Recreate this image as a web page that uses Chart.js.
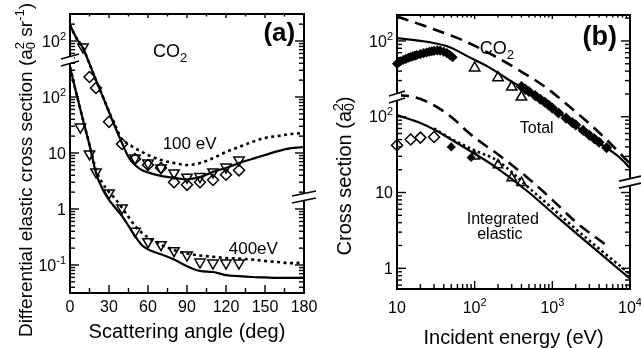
<!DOCTYPE html>
<html>
<head>
<meta charset="utf-8">
<script src="https://cdn.jsdelivr.net/npm/chart.js@4.4.1/dist/chart.umd.min.js"></script>
<style>
  body { margin: 0; background: #fff; width: 641px; height: 348px; overflow: hidden; position: relative; }
  canvas { position: absolute; top: 0; }
  #chartA { left: 0; }
  #chartB { left: 323px; }
</style>
</head>
<body>
<canvas id="chartA" width="325" height="348"></canvas>
<canvas id="chartB" width="320" height="348"></canvas>
<script>
// ---- panel (a): DCS vs scattering angle (100 eV curve shown x10 on the upper scale)
const angleCurve = [0, 5, 10, 15, 20, 25, 30, 35, 40, 45, 50, 55, 60, 70, 80, 90, 100, 110, 120, 130, 140, 150, 160, 170, 180];
const dcs100Solid = [1930, 1120, 750, 390, 200, 105, 54, 28, 15.1, 8.5, 6.1, 5.0, 4.5, 3.9, 3.6, 3.4, 3.7, 4.6, 5.4, 6.6, 7.8, 9.2, 10.8, 12.2, 12.8];
const dcs100Dotted = [1930, 1120, 750, 390, 200, 105, 55, 30, 17.5, 14.5, 12.2, 10.6, 9.2, 7.5, 6.6, 6.1, 6.6, 8.1, 10.4, 12.8, 15.7, 18.6, 20.1, 21.8, 22.7];
const dcs400Solid = [343, 113, 39, 13.9, 4.4, 2.27, 1.45, 1.04, 0.75, 0.50, 0.33, 0.23, 0.19, 0.155, 0.125, 0.095, 0.078, 0.075, 0.066, 0.063, 0.061, 0.060, 0.059, 0.059, 0.059];
const dcs400Dotted = [343, 113, 39, 14, 5.0, 2.9, 2.0, 1.5, 1.05, 0.72, 0.5, 0.38, 0.31, 0.23, 0.185, 0.16, 0.148, 0.14, 0.133, 0.13, 0.125, 0.118, 0.113, 0.108, 0.11];

const diamond100Angle = [15, 20, 30, 40, 50, 60, 70, 80, 90, 100, 110, 120, 130];
const diamond100 = [228, 145, 36, 14.5, 7.8, 6.1, 5.4, 3.0, 2.7, 3.0, 3.3, 4.1, 4.9];
const triangle100Angle = [10, 50, 60, 70, 80, 90, 100, 110, 120, 130];
const triangle100 = [780, 8.1, 6.6, 5.4, 4.4, 3.7, 3.8, 4.6, 5.6, 7.5];
const triangle400Angle = [8, 15, 20, 30, 40, 50, 60, 70, 80, 90, 100, 110, 120, 130];
const triangle400 = [29, 9.6, 4.6, 1.93, 1.04, 0.40, 0.26, 0.23, 0.18, 0.15, 0.113, 0.108, 0.108, 0.108];

const angleTicks = [0, 30, 60, 90, 120, 150, 180];
const dcsTickValues = [0.1, 1, 10, 100, 1000];
const dcsTickBase = ['10', '1', '10', '10', '10'];
const dcsTickExp = ['-1', '', '', '2', '2'];

// ---- panel (b): cross sections vs incident energy (total shown x10 on the upper scale)
const energyTotSolid = [10, 26, 47, 85, 150, 300, 500, 1000, 1440, 3000, 7350, 10000];
const totSolid = [1090, 966, 832, 612, 455, 290, 215, 128, 100, 55, 29, 21];
const energyTotDashed = [10, 21, 69, 153, 369, 815, 1746, 4000, 10000];
const totDashed = [2100, 1620, 1030, 692, 413, 246, 130, 62, 24];
const energyTotLow = [10, 10.5, 11, 12, 13, 14, 15, 16, 17, 18, 20, 22, 24, 26, 28, 30, 33, 36, 40, 44, 48, 52];
const totLow = [500, 520, 540, 560, 580, 600, 615, 630, 640, 650, 670, 690, 705, 720, 730, 740, 750, 745, 720, 690, 650, 610];
const energyTotTri = [100, 200, 300, 400];
const totTri = [440, 327, 246, 182];
const energyTotHigh = [400, 450, 500, 600, 700, 800, 900, 1000, 1200, 1500, 1800, 2000, 2500, 3000, 3500, 4000, 5000];
const totHigh = [250, 230, 215, 190, 170, 155, 142, 130, 112, 96, 84, 78, 66, 57, 51, 46, 39];

const energyIntSolid = [10, 18.6, 30.8, 51, 92, 182, 500, 1000, 2000, 5000, 10000];
const intSolid = [105, 85, 66.8, 49.3, 34.2, 22, 10.0, 5.4, 2.94, 1.33, 0.73];
const energyIntDashed = [10, 15.6, 25, 37.8, 55.6, 81.8, 124, 182, 500, 1000, 2000, 5000];
const intDashed = [193, 184, 156, 122, 90.5, 62.8, 45, 34.2, 15.1, 8.0, 4.1, 2.0];
const energyIntDotted = [30, 50, 100, 200, 500, 1000, 2000, 5000, 10000];
const intDotted = [70, 51, 36, 26, 11.5, 6.2, 3.3, 1.5, 0.84];
const energyIntDiaOpen = [10, 15, 20, 30];
const intDiaOpen = [42, 50, 53, 54];
const energyIntDiaFilled = [50, 90];
const intDiaFilled = [40, 29];
const energyIntTri = [100, 200, 300, 400];
const intTri = [30, 23, 15.5, 13.5];

const energyTickValues = [10, 100, 1000, 10000];
const energyTickBase = ['10', '10', '10', '10'];
const energyTickExp = ['', '2', '3', '4'];
const csTickValues = [1, 10, 100, 1000];
const csTickBase = ['1', '10', '10', '10'];
const csTickExp = ['', '', '2', '2'];

const FONT = '"Liberation Sans", Arial, sans-serif';

function pts(xs, ys) { return xs.map((x, i) => ({x: x, y: ys[i]})); }

function curve(xs, ys, dash, width) {
  return {data: pts(xs, ys), showLine: true, borderColor: '#000', borderWidth: width || 2.2,
    borderDash: dash || [], pointRadius: 0, cubicInterpolationMode: 'monotone', borderCapStyle: 'butt'};
}
function marks(xs, ys, style, radius, rot, fill) {
  return {data: pts(xs, ys), showLine: false, pointStyle: style, pointRadius: radius, pointRotation: rot || 0,
    pointBorderColor: '#000', pointBackgroundColor: fill || 'rgba(0,0,0,0)', pointBorderWidth: 1.5, clip: 10};
}

function logTicks(min, max) {
  const out = [];
  for (let d = Math.floor(Math.log10(min)); d <= Math.ceil(Math.log10(max)); d++) {
    for (let m = 1; m <= 9; m++) {
      const v = m * Math.pow(10, d);
      if (v >= min && v <= max) out.push({v: v, major: m === 1});
    }
  }
  return out;
}

// text made of runs (superscripts, subscripts, stacked a0^2)
function drawRich(ctx, segs, x, y, angle, align) {
  ctx.save();
  ctx.translate(x, y);
  ctx.rotate(angle);
  ctx.fillStyle = '#000';
  ctx.textBaseline = 'alphabetic';
  ctx.textAlign = 'left';
  const font = s => (s.b ? 'bold ' : '') + s.f + 'px ' + FONT;
  let total = 0;
  const widths = segs.map(s => {
    const parts = s.stack || [s];
    const w = Math.max(...parts.map(p => { ctx.font = font(p); return ctx.measureText(p.t).width; }));
    total += w;
    return w;
  });
  const base = segs[0].f * 0.36;
  let cx = align === 'right' ? -total : -total / 2;
  segs.forEach((s, i) => {
    (s.stack || [s]).forEach(p => { ctx.font = font(p); ctx.fillText(p.t, cx, base + (p.dy || 0)); });
    cx += widths[i];
  });
  ctx.restore();
}

function powerLabel(base, exp) {
  const segs = [{t: base, f: 16}];
  if (exp) segs.push({t: exp, f: 11, dy: -7});
  return segs;
}

function drawBreak(ctx, x, y, w) {
  ctx.fillStyle = '#fff';
  ctx.beginPath();
  ctx.moveTo(x - 4, y - 3 + 1.2); ctx.lineTo(x + 4, y - 3 - 1.2);
  ctx.lineTo(x + 4, y + 3 - 1.2); ctx.lineTo(x - 4, y + 3 + 1.2);
  ctx.closePath(); ctx.fill();
  ctx.lineWidth = 1.6;
  [-3.5, 3.5].forEach(d => {
    ctx.beginPath();
    ctx.moveTo(x - w, y + d + 2.5);
    ctx.lineTo(x + w, y + d - 2.5);
    ctx.stroke();
  });
}

function line(ctx, x1, y1, x2, y2) { ctx.beginPath(); ctx.moveTo(x1, y1); ctx.lineTo(x2, y2); ctx.stroke(); }

function framePlugin(cfg) {
  return {
    id: 'frame' + cfg.name,
    afterDatasetsDraw(chart) {
      const ctx = chart.ctx, a = chart.chartArea;
      const xs = chart.scales.x, ys = chart.scales.y;
      ctx.save();
      ctx.strokeStyle = '#000';
      ctx.lineWidth = 1.4;
      logTicks(ys.min, ys.max).forEach(t => {
        const p = ys.getPixelForValue(t.v), len = t.major ? 9 : 5;
        line(ctx, a.left, p, a.left + len, p);
        line(ctx, a.right, p, a.right - len, p);
      });
      let xt;
      if (cfg.xLog) xt = logTicks(xs.min, xs.max);
      else { xt = []; for (let v = xs.min; v <= xs.max; v += 15) xt.push({v: v, major: v % 30 === 0}); }
      xt.forEach(t => {
        const p = xs.getPixelForValue(t.v), len = t.major ? 8 : 5;
        line(ctx, p, a.bottom, p, a.bottom - len);
        line(ctx, p, a.top, p, a.top + len * 0.5);
      });
      ctx.lineWidth = 2;
      ctx.strokeRect(a.left, a.top, a.right - a.left, a.bottom - a.top);
      drawBreak(ctx, a.left, ys.getPixelForValue(cfg.breakLeft), cfg.breakW[0]);
      drawBreak(ctx, a.right, ys.getPixelForValue(cfg.breakRight), cfg.breakW[1]);
      // tick labels
      cfg.yTicks.values.forEach((v, i) => drawRich(ctx, powerLabel(cfg.yTicks.base[i], cfg.yTicks.exp[i]),
        a.left - 4, ys.getPixelForValue(v), 0, 'right'));
      cfg.xTicks.values.forEach((v, i) => drawRich(ctx, powerLabel(cfg.xTicks.base[i], cfg.xTicks.exp[i]),
        xs.getPixelForValue(v), a.bottom + cfg.xTicks.gap, 0));
      cfg.notes.forEach(n => drawRich(ctx, n.segs, xs.getPixelForValue(n.x), ys.getPixelForValue(n.y), 0));
      drawRich(ctx, cfg.xTitle, (a.left + a.right) / 2, cfg.xTitleY, 0);
      drawRich(ctx, cfg.yTitle, cfg.yTitleX, cfg.yTitleY, -Math.PI / 2);
      ctx.restore();
    }
  };
}

function axisOpts(extra) {
  return Object.assign({
    grid: {display: false, drawTicks: false},
    border: {display: false},
    ticks: {display: false}
  }, extra);
}

const co2 = [{t: 'CO', f: 18}, {t: '2', f: 13, dy: 5}];

new Chart(document.getElementById('chartA'), {
  type: 'scatter',
  data: {datasets: [
    marks(diamond100Angle, diamond100, 'rectRot', 5.5),
    marks(triangle100Angle, triangle100, 'triangle', 6, 180),
    marks(triangle400Angle, triangle400, 'triangle', 6, 180),
    curve(angleCurve, dcs100Dotted, [3, 3.5], 2.6),
    curve(angleCurve, dcs400Dotted, [3, 3.5], 2.6),
    curve(angleCurve, dcs100Solid),
    curve(angleCurve, dcs400Solid)
  ]},
  options: {
    responsive: false, animation: false,
    layout: {padding: {top: 14, right: 21, left: 70, bottom: 55}},
    plugins: {legend: {display: false}, tooltip: {enabled: false}},
    scales: {
      x: axisOpts({type: 'linear', min: 0, max: 180}),
      y: axisOpts({type: 'logarithmic', min: 0.0316, max: 3035, bounds: 'data'})
    }
  },
  plugins: [framePlugin({
    name: 'A', xLog: false, breakLeft: 458, breakRight: 1.64, breakW: [9, 12],
    yTicks: {values: dcsTickValues, base: dcsTickBase, exp: dcsTickExp},
    xTicks: {values: angleTicks, base: angleTicks.map(String), exp: angleTicks.map(() => ''), gap: 13},
    notes: [
      {x: 77, y: 690, segs: co2},
      {x: 161, y: 1450, segs: [{t: '(a)', f: 26, b: true}]},
      {x: 92, y: 15.1, segs: [{t: '100 eV', f: 17}]},
      {x: 141, y: 0.2, segs: [{t: '400eV', f: 17}]}
    ],
    xTitle: [{t: 'Scattering angle (deg)', f: 20}], xTitleY: 331,
    yTitle: [{t: 'Differential elastic cross section (a', f: 19},
      {stack: [{t: '2', f: 13, dy: -8}, {t: '0', f: 13, dy: 3}]},
      {t: ' sr', f: 19}, {t: '-1', f: 13, dy: -8}, {t: ')', f: 19}],
    yTitleX: 25, yTitleY: 170
  })]
});

new Chart(document.getElementById('chartB'), {
  type: 'scatter',
  data: {datasets: [
    marks(energyTotLow, totLow, 'rectRot', 4, 0, '#000'),
    marks(energyTotHigh, totHigh, 'rectRot', 4.5, 0, '#000'),
    marks(energyTotTri, totTri, 'triangle', 6),
    marks(energyIntDiaOpen, intDiaOpen, 'rectRot', 5.5),
    marks(energyIntDiaFilled, intDiaFilled, 'rectRot', 3.5, 0, '#000'),
    marks(energyIntTri, intTri, 'triangle', 5.5),
    curve(energyTotDashed, totDashed, [12, 7], 2.6),
    curve(energyIntDashed, intDashed, [12, 7], 2.6),
    curve(energyIntDotted, intDotted, [2.5, 3], 2.6),
    curve(energyTotSolid, totSolid),
    curve(energyIntSolid, intSolid)
  ]},
  options: {
    responsive: false, animation: false,
    layout: {padding: {top: 15, right: 13, left: 74, bottom: 59}},
    plugins: {legend: {display: false}, tooltip: {enabled: false}},
    scales: {
      x: axisOpts({type: 'logarithmic', min: 10, max: 10000, bounds: 'data'}),
      y: axisOpts({type: 'logarithmic', min: 0.533, max: 2200, bounds: 'data'})
    }
  },
  plugins: [framePlugin({
    name: 'B', xLog: true, breakLeft: 182, breakRight: 13.7, breakW: [8, 11],
    yTicks: {values: csTickValues, base: csTickBase, exp: csTickExp},
    xTicks: {values: energyTickValues, base: energyTickBase, exp: energyTickExp, gap: 18},
    notes: [
      {x: 193, y: 830, segs: co2},
      {x: 4070, y: 1200, segs: [{t: '(b)', f: 27, b: true}]},
      {x: 630, y: 73, segs: [{t: 'Total', f: 16}]},
      {x: 230, y: 4.6, segs: [{t: 'Integrated', f: 16}]},
      {x: 211, y: 2.9, segs: [{t: 'elastic', f: 16}]}
    ],
    xTitle: [{t: 'Incident energy (eV)', f: 20}], xTitleY: 337,
    yTitle: [{t: 'Cross section (a', f: 20},
      {stack: [{t: '2', f: 14, dy: -8}, {t: '0', f: 14, dy: 3}]},
      {t: ')', f: 20}],
    yTitleX: 21, yTitleY: 176
  })]
});
</script>
</body>
</html>
